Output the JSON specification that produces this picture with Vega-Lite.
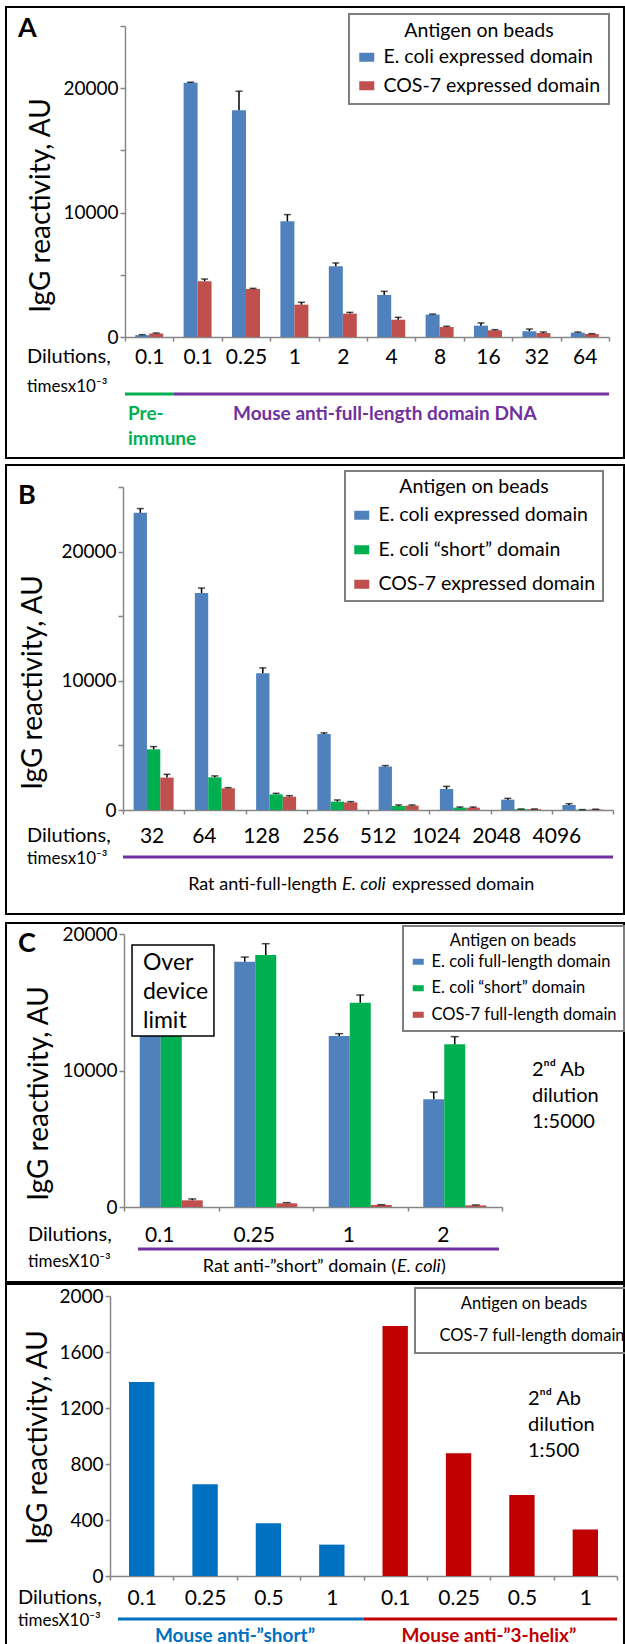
{
  "$schema": "https://vega.github.io/schema/vega-lite/v6.json",
  "padding": {"left": 5, "top": 6, "right": 0, "bottom": 0},
  "config": {
    "font": "Lato",
    "view": {"stroke": "black", "strokeWidth": 2},
    "axis": {"domainColor": "#868686", "tickColor": "#868686", "domainWidth": 1.5, "tickWidth": 1.5, "grid": false, "labelFont": "Lato", "titleFont": "Lato", "labelColor": "black", "titleColor": "black", "titleFontWeight": "normal", "labelOverlap": false},
    "legend": {"labelFont": "Lato", "titleFont": "Lato", "strokeWidth": 2, "strokeColor": "#7f7f7f", "titleFontWeight": "normal", "labelColor": "black", "titleColor": "black", "labelLimit": 400, "titleLimit": 400, "titleAnchor": "middle"},
    "text": {"font": "Lato", "color": "black"}
  },
  "resolve": {"scale": {"color": "independent", "x": "independent", "y": "independent", "xOffset": "independent", "shape": "independent"}, "axis": {"x": "independent", "y": "independent"}, "legend": {"color": "independent", "shape": "independent"}},
  "spacing": 7,
  "vconcat": [
    {
      "spacing": 5,
      "resolve": {"scale": {"color": "independent", "x": "independent", "y": "independent", "xOffset": "independent", "shape": "independent"}, "axis": {"x": "independent", "y": "independent"}, "legend": {"color": "independent", "shape": "independent"}},
      "vconcat": [
        {
          "width": 618, "height": 451,
          "resolve": {"scale": {"x": "independent"}, "axis": {"x": "independent"}},
          "layer": [
            {
              "data": {"values": [
                {"cat": "p0.1", "antigen": "E. coli expressed domain", "value": 150, "hi": 190},
                {"cat": "p0.1", "antigen": "COS-7 expressed domain", "value": 280, "hi": 320},
                {"cat": "0.1", "antigen": "E. coli expressed domain", "value": 20430, "hi": 20480},
                {"cat": "0.1", "antigen": "COS-7 expressed domain", "value": 4480, "hi": 4660},
                {"cat": "0.25", "antigen": "E. coli expressed domain", "value": 18230, "hi": 19760},
                {"cat": "0.25", "antigen": "COS-7 expressed domain", "value": 3860, "hi": 3910},
                {"cat": "1", "antigen": "E. coli expressed domain", "value": 9300, "hi": 9840},
                {"cat": "1", "antigen": "COS-7 expressed domain", "value": 2600, "hi": 2790},
                {"cat": "2", "antigen": "E. coli expressed domain", "value": 5680, "hi": 5950},
                {"cat": "2", "antigen": "COS-7 expressed domain", "value": 1880, "hi": 1980},
                {"cat": "4", "antigen": "E. coli expressed domain", "value": 3380, "hi": 3670},
                {"cat": "4", "antigen": "COS-7 expressed domain", "value": 1390, "hi": 1580},
                {"cat": "8", "antigen": "E. coli expressed domain", "value": 1800, "hi": 1840},
                {"cat": "8", "antigen": "COS-7 expressed domain", "value": 800, "hi": 860},
                {"cat": "16", "antigen": "E. coli expressed domain", "value": 910, "hi": 1130},
                {"cat": "16", "antigen": "COS-7 expressed domain", "value": 540, "hi": 590},
                {"cat": "32", "antigen": "E. coli expressed domain", "value": 460, "hi": 640},
                {"cat": "32", "antigen": "COS-7 expressed domain", "value": 320, "hi": 400},
                {"cat": "64", "antigen": "E. coli expressed domain", "value": 350, "hi": 400},
                {"cat": "64", "antigen": "COS-7 expressed domain", "value": 240, "hi": 270}
              ]},
              "encoding": {
                "x": {"field": "cat", "type": "nominal", "scale": {"domain": ["p0.1", "0.1", "0.25", "1", "2", "4", "8", "16", "32", "64"], "range": [119, 603], "paddingInner": 0, "paddingOuter": 0},
                  "axis": {"orient": "bottom", "offset": -121, "tickBand": "extent", "tickSize": 4, "labelPadding": 22, "labelBaseline": "alphabetic", "labelFontSize": 21, "labelAngle": 0, "labelExpr": "replace(datum.label, 'p', '')", "title": null}},
                "xOffset": {"field": "antigen", "type": "nominal", "scale": {"domain": ["E. coli expressed domain", "COS-7 expressed domain"], "paddingInner": 0, "paddingOuter": 0.73}}
              },
              "layer": [
                {"mark": {"type": "bar"},
                 "encoding": {
                   "y": {"field": "value", "type": "quantitative", "scale": {"domain": [0, 25000], "range": [330, 19], "nice": false},
                     "axis": {"orient": "left", "offset": -119, "values": [0, 5000, 10000, 15000, 20000, 25000], "format": "d", "labelExpr": "datum.value % 10000 === 0 ? datum.label : ''", "tickSize": 5, "labelPadding": 2, "labelFontSize": 19, "title": "IgG reactivity, AU", "titleFontSize": 28, "titleAngle": -90, "titleX": -84, "titleY": 198, "titleAlign": "center", "titleBaseline": "middle"}},
                   "color": {"field": "antigen", "type": "nominal", "scale": {"domain": ["E. coli expressed domain", "COS-7 expressed domain"], "range": ["#4F81BD", "#C0504D"]},
                     "legend": {"orient": "none", "legendX": 343, "legendY": 7, "title": "Antigen on beads", "titleFontSize": 19.5, "labelFontSize": 19.5, "padding": 8, "titlePadding": 6, "rowPadding": 7.5, "symbolType": "M-1,-0.6L1,-0.6L1,0.6L-1,0.6Z", "symbolSize": 225, "symbolStrokeWidth": 0, "labelOffset": 7}}
                 }},
                {"mark": {"type": "rule", "color": "black", "strokeWidth": 1.5},
                 "encoding": {"y": {"field": "value", "type": "quantitative"}, "y2": {"field": "hi"}}},
                {"mark": {"type": "tick", "color": "black", "thickness": 1.5, "size": 7},
                 "encoding": {"y": {"field": "hi", "type": "quantitative"}}}
              ]
            },
            {
              "data": {"values": [{}]},
              "layer": [
                {"mark": {"type": "text", "text": "A", "fontSize": 27, "fontWeight": "bold", "align": "left", "baseline": "alphabetic"},
                 "encoding": {"x": {"datum": -2.211, "type": "quantitative", "scale": {"domain": [0, 10], "range": [119, 603], "nice": false, "zero": false}, "axis": null}, "y": {"datum": 24140, "type": "quantitative", "scale": {"domain": [0, 25000], "range": [330, 19], "nice": false}}}},
                {"mark": {"type": "text", "text": "Dilutions,", "fontSize": 20, "align": "left", "baseline": "alphabetic"},
                 "encoding": {"x": {"datum": -2.025, "type": "quantitative"}, "y": {"datum": -2090, "type": "quantitative"}}},
                {"mark": {"type": "text", "text": "timesx10⁻³", "fontSize": 17, "align": "left", "baseline": "alphabetic"},
                 "encoding": {"x": {"datum": -2.025, "type": "quantitative"}, "y": {"datum": -4397, "type": "quantitative"}}},
                {"mark": {"type": "rule", "color": "#00B050", "strokeWidth": 3},
                 "encoding": {"x": {"datum": 0, "type": "quantitative"}, "x2": {"datum": 1}, "y": {"datum": -4582, "type": "quantitative"}}},
                {"mark": {"type": "rule", "color": "#7030A0", "strokeWidth": 3},
                 "encoding": {"x": {"datum": 1, "type": "quantitative"}, "x2": {"datum": 10}, "y": {"datum": -4582, "type": "quantitative"}}},
                {"mark": {"type": "text", "text": "Pre-", "fontSize": 19, "fontWeight": "bold", "color": "#00B050", "align": "left", "baseline": "alphabetic"},
                 "encoding": {"x": {"datum": 0.062, "type": "quantitative"}, "y": {"datum": -6672, "type": "quantitative"}}},
                {"mark": {"type": "text", "text": "immune", "fontSize": 19, "fontWeight": "bold", "color": "#00B050", "align": "left", "baseline": "alphabetic"},
                 "encoding": {"x": {"datum": 0.062, "type": "quantitative"}, "y": {"datum": -8682, "type": "quantitative"}}},
                {"mark": {"type": "text", "text": "Mouse anti-full-length domain DNA", "fontSize": 19, "fontWeight": "bold", "color": "#7030A0", "align": "left", "baseline": "alphabetic"},
                 "encoding": {"x": {"datum": 2.231, "type": "quantitative"}, "y": {"datum": -6672, "type": "quantitative"}}}
              ]
            }
          ]
        },
        {
          "width": 618, "height": 449,
          "resolve": {"scale": {"x": "independent"}, "axis": {"x": "independent"}},
          "layer": [
            {
              "data": {"values": [
                {"cat": "32", "antigen": "E. coli expressed domain", "value": 23000, "hi": 23330},
                {"cat": "32", "antigen": "E. coli “short” domain", "value": 4700, "hi": 4910},
                {"cat": "32", "antigen": "COS-7 expressed domain", "value": 2510, "hi": 2760},
                {"cat": "64", "antigen": "E. coli expressed domain", "value": 16800, "hi": 17180},
                {"cat": "64", "antigen": "E. coli “short” domain", "value": 2530, "hi": 2640},
                {"cat": "64", "antigen": "COS-7 expressed domain", "value": 1680, "hi": 1730},
                {"cat": "128", "antigen": "E. coli expressed domain", "value": 10590, "hi": 11000},
                {"cat": "128", "antigen": "E. coli “short” domain", "value": 1210, "hi": 1290},
                {"cat": "128", "antigen": "COS-7 expressed domain", "value": 1030, "hi": 1110},
                {"cat": "256", "antigen": "E. coli expressed domain", "value": 5890, "hi": 5970},
                {"cat": "256", "antigen": "E. coli “short” domain", "value": 650, "hi": 775},
                {"cat": "256", "antigen": "COS-7 expressed domain", "value": 590, "hi": 650},
                {"cat": "512", "antigen": "E. coli expressed domain", "value": 3360, "hi": 3440},
                {"cat": "512", "antigen": "E. coli “short” domain", "value": 310, "hi": 390},
                {"cat": "512", "antigen": "COS-7 expressed domain", "value": 340, "hi": 390},
                {"cat": "1024", "antigen": "E. coli expressed domain", "value": 1630, "hi": 1830},
                {"cat": "1024", "antigen": "E. coli “short” domain", "value": 180, "hi": 230},
                {"cat": "1024", "antigen": "COS-7 expressed domain", "value": 180, "hi": 230},
                {"cat": "2048", "antigen": "E. coli expressed domain", "value": 800, "hi": 900},
                {"cat": "2048", "antigen": "E. coli “short” domain", "value": 60, "hi": 80},
                {"cat": "2048", "antigen": "COS-7 expressed domain", "value": 60, "hi": 80},
                {"cat": "4096", "antigen": "E. coli expressed domain", "value": 390, "hi": 490},
                {"cat": "4096", "antigen": "E. coli “short” domain", "value": 20, "hi": 30},
                {"cat": "4096", "antigen": "COS-7 expressed domain", "value": 40, "hi": 60}
              ]},
              "encoding": {
                "x": {"field": "cat", "type": "nominal", "scale": {"domain": ["32", "64", "128", "256", "512", "1024", "2048", "4096"], "range": [117, 607], "paddingInner": 0, "paddingOuter": 0},
                  "axis": {"orient": "bottom", "offset": -104, "tickBand": "extent", "tickSize": 4, "labelPadding": 28, "labelBaseline": "alphabetic", "labelFontSize": 21, "labelAngle": 0, "title": null,
                    "labelOffset": {"condition": [{"test": "datum.value == '32'", "value": -2}, {"test": "datum.value == '64'", "value": -11}, {"test": "datum.value == '128'", "value": -15}, {"test": "datum.value == '256'", "value": -17}, {"test": "datum.value == '512'", "value": -21}, {"test": "datum.value == '1024'", "value": -24}, {"test": "datum.value == '2048'", "value": -25}], "value": -26}}},
                "xOffset": {"field": "antigen", "type": "nominal", "scale": {"domain": ["E. coli expressed domain", "E. coli “short” domain", "COS-7 expressed domain"], "paddingInner": 0, "paddingOuter": 0.797}}
              },
              "layer": [
                {"mark": {"type": "bar"},
                 "encoding": {
                   "y": {"field": "value", "type": "quantitative", "scale": {"domain": [0, 25000], "range": [345, 22], "nice": false},
                     "axis": {"orient": "left", "offset": -117, "values": [0, 5000, 10000, 15000, 20000, 25000], "format": "d", "labelExpr": "datum.value % 10000 === 0 ? datum.label : ''", "tickSize": 5, "labelPadding": 2, "labelFontSize": 19, "title": "IgG reactivity, AU", "titleFontSize": 28, "titleAngle": -90, "titleX": -90, "titleY": 217, "titleAlign": "center", "titleBaseline": "middle"}},
                   "color": {"field": "antigen", "type": "nominal", "scale": {"domain": ["E. coli expressed domain", "E. coli “short” domain", "COS-7 expressed domain"], "range": ["#4F81BD", "#00B050", "#C0504D"]},
                     "legend": {"orient": "none", "legendX": 339, "legendY": 6, "title": "Antigen on beads", "titleFontSize": 19.5, "labelFontSize": 19.5, "padding": 7, "titlePadding": 8, "rowPadding": 13.5, "symbolType": "M-1,-0.6L1,-0.6L1,0.6L-1,0.6Z", "symbolSize": 225, "symbolStrokeWidth": 0, "labelOffset": 7}}
                 }},
                {"mark": {"type": "rule", "color": "black", "strokeWidth": 1.5},
                 "encoding": {"y": {"field": "value", "type": "quantitative"}, "y2": {"field": "hi"}}},
                {"mark": {"type": "tick", "color": "black", "thickness": 1.5, "size": 7},
                 "encoding": {"y": {"field": "hi", "type": "quantitative"}}}
              ]
            },
            {
              "data": {"values": [{}]},
              "layer": [
                {"mark": {"type": "text", "text": "B", "fontSize": 27, "fontWeight": "bold", "align": "left", "baseline": "alphabetic"},
                 "encoding": {"x": {"datum": -1.714, "type": "quantitative", "scale": {"domain": [0, 8], "range": [117, 607], "nice": false, "zero": false}, "axis": null}, "y": {"datum": 23707, "type": "quantitative", "scale": {"domain": [0, 25000], "range": [345, 22], "nice": false}}}},
                {"mark": {"type": "text", "text": "Dilutions,", "fontSize": 20, "align": "left", "baseline": "alphabetic"},
                 "encoding": {"x": {"datum": -1.567, "type": "quantitative"}, "y": {"datum": -2477, "type": "quantitative"}}},
                {"mark": {"type": "text", "text": "timesx10⁻³", "fontSize": 17, "align": "left", "baseline": "alphabetic"},
                 "encoding": {"x": {"datum": -1.567, "type": "quantitative"}, "y": {"datum": -4156, "type": "quantitative"}}},
                {"mark": {"type": "rule", "color": "#7030A0", "strokeWidth": 3},
                 "encoding": {"x": {"datum": 0, "type": "quantitative"}, "x2": {"datum": 8}, "y": {"datum": -3638, "type": "quantitative"}}},
                {"mark": {"type": "text", "text": "Rat anti-full-length", "fontSize": 18, "align": "right", "baseline": "alphabetic"},
                 "encoding": {"x": {"datum": 3.494, "type": "quantitative"}, "y": {"datum": -6192, "type": "quantitative"}}},
                {"mark": {"type": "text", "text": "E. coli", "fontSize": 18, "fontStyle": "italic", "align": "left", "baseline": "alphabetic"},
                 "encoding": {"x": {"datum": 3.576, "type": "quantitative"}, "y": {"datum": -6192, "type": "quantitative"}}},
                {"mark": {"type": "text", "text": "expressed domain", "fontSize": 18, "align": "left", "baseline": "alphabetic"},
                 "encoding": {"x": {"datum": 4.392, "type": "quantitative"}, "y": {"datum": -6192, "type": "quantitative"}}}
              ]
            }
          ]
        }
      ]
    },
    {
      "spacing": 0,
      "resolve": {"scale": {"color": "independent", "x": "independent", "y": "independent", "xOffset": "independent", "shape": "independent"}, "axis": {"x": "independent", "y": "independent"}, "legend": {"color": "independent", "shape": "independent"}},
      "vconcat": [
        {
          "width": 618, "height": 359,
          "resolve": {"scale": {"x": "independent"}, "axis": {"x": "independent"}},
          "layer": [
            {
              "data": {"values": [
                {"cat": "0.1", "antigen": "E. coli full-length domain", "value": 15000, "hi": 15000},
                {"cat": "0.1", "antigen": "E. coli “short” domain", "value": 15000, "hi": 15000},
                {"cat": "0.1", "antigen": "COS-7 full-length domain", "value": 490, "hi": 590},
                {"cat": "0.25", "antigen": "E. coli full-length domain", "value": 17970, "hi": 18310},
                {"cat": "0.25", "antigen": "E. coli “short” domain", "value": 18460, "hi": 19290},
                {"cat": "0.25", "antigen": "COS-7 full-length domain", "value": 270, "hi": 320},
                {"cat": "1", "antigen": "E. coli full-length domain", "value": 12530, "hi": 12700},
                {"cat": "1", "antigen": "E. coli “short” domain", "value": 14970, "hi": 15530},
                {"cat": "1", "antigen": "COS-7 full-length domain", "value": 150, "hi": 170},
                {"cat": "2", "antigen": "E. coli full-length domain", "value": 7890, "hi": 8420},
                {"cat": "2", "antigen": "E. coli “short” domain", "value": 11920, "hi": 12480},
                {"cat": "2", "antigen": "COS-7 full-length domain", "value": 120, "hi": 150}
              ]},
              "encoding": {
                "x": {"field": "cat", "type": "nominal", "scale": {"domain": ["0.1", "0.25", "1", "2"], "range": [118, 496], "paddingInner": 0, "paddingOuter": 0},
                  "axis": {"orient": "bottom", "offset": -75, "tickBand": "extent", "tickSize": 4, "labelPadding": 30, "labelBaseline": "alphabetic", "labelFontSize": 21, "labelAngle": 0, "labelOffset": -12, "title": null}},
                "xOffset": {"field": "antigen", "type": "nominal", "scale": {"domain": ["E. coli full-length domain", "E. coli “short” domain", "COS-7 full-length domain"], "paddingInner": 0, "paddingOuter": 0.75}}
              },
              "layer": [
                {"mark": {"type": "bar"},
                 "encoding": {
                   "y": {"field": "value", "type": "quantitative", "scale": {"domain": [0, 20000], "range": [284, 11], "nice": false},
                     "axis": {"orient": "left", "offset": -118, "values": [0, 10000, 20000], "format": "d", "tickSize": 5, "labelPadding": 2, "labelFontSize": 19, "title": "IgG reactivity, AU", "titleFontSize": 28, "titleAngle": -90, "titleX": -85, "titleY": 170, "titleAlign": "center", "titleBaseline": "middle"}},
                   "color": {"field": "antigen", "type": "nominal", "scale": {"domain": ["E. coli full-length domain", "E. coli “short” domain", "COS-7 full-length domain"], "range": ["#4F81BD", "#00B050", "#C0504D"]},
                     "legend": {"orient": "none", "legendX": 397, "legendY": 3, "title": "Antigen on beads", "titleFontSize": 16.5, "labelFontSize": 16.5, "padding": 7, "titlePadding": 4, "rowPadding": 9.5, "symbolType": "M-1,-0.55L1,-0.55L1,0.55L-1,0.55Z", "symbolSize": 121, "symbolStrokeWidth": 0, "labelOffset": 5}}
                 }},
                {"mark": {"type": "rule", "color": "black", "strokeWidth": 1.5},
                 "encoding": {"y": {"field": "value", "type": "quantitative"}, "y2": {"field": "hi"}}},
                {"mark": {"type": "tick", "color": "black", "thickness": 1.5, "size": 8},
                 "encoding": {"y": {"field": "hi", "type": "quantitative"}}}
              ]
            },
            {
              "data": {"values": [{}]},
              "layer": [
                {"mark": {"type": "text", "text": "C", "fontSize": 27, "fontWeight": "bold", "align": "left", "baseline": "alphabetic"},
                 "encoding": {"x": {"datum": -1.122, "type": "quantitative", "scale": {"domain": [0, 4], "range": [118, 496], "nice": false, "zero": false}, "axis": null}, "y": {"datum": 18681, "type": "quantitative", "scale": {"domain": [0, 20000], "range": [284, 11], "nice": false}}}},
                {"mark": {"type": "rect", "fill": "white", "stroke": "black", "strokeWidth": 1.5},
                 "encoding": {"x": {"datum": 0.085, "type": "quantitative"}, "x2": {"datum": 0.952}, "y": {"datum": 19194, "type": "quantitative"}, "y2": {"datum": 12527}}},
                {"mark": {"type": "text", "text": ["Over", "device", "limit"], "fontSize": 23, "lineHeight": 29, "align": "left", "baseline": "alphabetic"},
                 "encoding": {"x": {"datum": 0.201, "type": "quantitative"}, "y": {"datum": 17363, "type": "quantitative"}}},
                {"mark": {"type": "text", "text": ["2ⁿᵈ Ab", "dilution", "1:5000"], "fontSize": 20, "lineHeight": 26.3, "align": "left", "baseline": "alphabetic"},
                 "encoding": {"x": {"datum": 4.317, "type": "quantitative"}, "y": {"datum": 9619, "type": "quantitative"}}},
                {"mark": {"type": "text", "text": "Dilutions,", "fontSize": 20, "align": "left", "baseline": "alphabetic"},
                 "encoding": {"x": {"datum": -1.016, "type": "quantitative"}, "y": {"datum": -2469, "type": "quantitative"}}},
                {"mark": {"type": "text", "text": "timesX10⁻³", "fontSize": 17, "align": "left", "baseline": "alphabetic"},
                 "encoding": {"x": {"datum": -1.016, "type": "quantitative"}, "y": {"datum": -4396, "type": "quantitative"}}},
                {"mark": {"type": "rule", "color": "#7030A0", "strokeWidth": 3},
                 "encoding": {"x": {"datum": 0.148, "type": "quantitative"}, "x2": {"datum": 3.968}, "y": {"datum": -3077, "type": "quantitative"}}},
                {"mark": {"type": "text", "text": "Rat anti-”short” domain (", "fontSize": 18, "align": "right", "baseline": "alphabetic"},
                 "encoding": {"x": {"datum": 2.878, "type": "quantitative"}, "y": {"datum": -4762, "type": "quantitative"}}},
                {"mark": {"type": "text", "text": "E. coli", "fontSize": 18, "fontStyle": "italic", "align": "left", "baseline": "alphabetic"},
                 "encoding": {"x": {"datum": 2.889, "type": "quantitative"}, "y": {"datum": -4762, "type": "quantitative"}}},
                {"mark": {"type": "text", "text": ")", "fontSize": 18, "align": "left", "baseline": "alphabetic"},
                 "encoding": {"x": {"datum": 3.354, "type": "quantitative"}, "y": {"datum": -4762, "type": "quantitative"}}}
              ]
            }
          ]
        },
        {
          "width": 618, "height": 368,
          "resolve": {"scale": {"x": "independent"}, "axis": {"x": "independent"}},
          "layer": [
            {
              "data": {"values": [
                {"cat": "s0.1", "grp": "Mouse anti-”short”", "antigen": "COS-7 full-length domain", "value": 1386},
                {"cat": "s0.25", "grp": "Mouse anti-”short”", "antigen": "COS-7 full-length domain", "value": 655},
                {"cat": "s0.5", "grp": "Mouse anti-”short”", "antigen": "COS-7 full-length domain", "value": 376},
                {"cat": "s1", "grp": "Mouse anti-”short”", "antigen": "COS-7 full-length domain", "value": 224},
                {"cat": "h0.1", "grp": "Mouse anti-”3-helix”", "antigen": "COS-7 full-length domain", "value": 1786},
                {"cat": "h0.25", "grp": "Mouse anti-”3-helix”", "antigen": "COS-7 full-length domain", "value": 876},
                {"cat": "h0.5", "grp": "Mouse anti-”3-helix”", "antigen": "COS-7 full-length domain", "value": 579},
                {"cat": "h1", "grp": "Mouse anti-”3-helix”", "antigen": "COS-7 full-length domain", "value": 333}
              ]},
              "encoding": {
                "x": {"field": "cat", "type": "nominal", "scale": {"domain": ["s0.1", "s0.25", "s0.5", "s1", "h0.1", "h0.25", "h0.5", "h1"], "range": [104, 611], "paddingInner": 0, "paddingOuter": 0},
                  "axis": {"orient": "bottom", "offset": -76, "tickBand": "extent", "tickSize": 4, "labelPadding": 24, "labelBaseline": "alphabetic", "labelFontSize": 21, "labelAngle": 0, "labelExpr": "slice(datum.label, 1)", "title": null}},
                "y": {"field": "value", "type": "quantitative", "scale": {"domain": [0, 2000], "range": [292, 12], "nice": false},
                  "axis": {"orient": "left", "offset": -104, "values": [0, 200, 400, 600, 800, 1000, 1200, 1400, 1600, 1800, 2000], "format": "d", "labelExpr": "datum.value % 400 === 0 ? datum.label : ''", "tickSize": 5, "labelPadding": 2, "labelFontSize": 19, "title": "IgG reactivity, AU", "titleFontSize": 28, "titleAngle": -90, "titleX": -72, "titleY": 153, "titleAlign": "center", "titleBaseline": "middle"}}
              },
              "layer": [
                {"mark": {"type": "bar", "width": {"band": 0.4}},
                 "encoding": {"color": {"field": "grp", "type": "nominal", "scale": {"domain": ["Mouse anti-”short”", "Mouse anti-”3-helix”"], "range": ["#0070C0", "#C00000"]}, "legend": null}}},
                {"mark": {"type": "point", "opacity": 0},
                 "encoding": {"shape": {"field": "antigen", "type": "nominal",
                   "legend": {"orient": "none", "legendX": 409, "legendY": 4, "title": "Antigen on beads", "titleFontSize": 16.5, "labelFontSize": 16.5, "padding": 8, "titlePadding": 15, "symbolSize": 1, "symbolOpacity": 0, "symbolStrokeWidth": 0, "labelOffset": 0}}}}
              ]
            },
            {
              "data": {"values": [{}]},
              "layer": [
                {"mark": {"type": "text", "text": "Dilutions,", "fontSize": 20, "align": "left", "baseline": "alphabetic"},
                 "encoding": {"x": {"datum": -1.452, "type": "quantitative", "scale": {"domain": [0, 8], "range": [104, 611], "nice": false, "zero": false}, "axis": null}, "y": {"datum": -200, "type": "quantitative", "scale": {"domain": [0, 2000], "range": [292, 12], "nice": false}}}},
                {"mark": {"type": "text", "text": "timesX10⁻³", "fontSize": 17, "align": "left", "baseline": "alphabetic"},
                 "encoding": {"x": {"datum": -1.452, "type": "quantitative"}, "y": {"datum": -357, "type": "quantitative"}}},
                {"mark": {"type": "rule", "color": "#0070C0", "strokeWidth": 3},
                 "encoding": {"x": {"datum": 0.126, "type": "quantitative"}, "x2": {"datum": 4}, "y": {"datum": -307, "type": "quantitative"}}},
                {"mark": {"type": "rule", "color": "#C00000", "strokeWidth": 3},
                 "encoding": {"x": {"datum": 4, "type": "quantitative"}, "x2": {"datum": 8}, "y": {"datum": -307, "type": "quantitative"}}},
                {"mark": {"type": "text", "text": "Mouse anti-”short”", "fontSize": 19, "fontWeight": "bold", "color": "#0070C0", "align": "center", "baseline": "alphabetic"},
                 "encoding": {"x": {"datum": 1.972, "type": "quantitative"}, "y": {"datum": -468, "type": "quantitative"}}},
                {"mark": {"type": "text", "text": "Mouse anti-”3-helix”", "fontSize": 19, "fontWeight": "bold", "color": "#C00000", "align": "center", "baseline": "alphabetic"},
                 "encoding": {"x": {"datum": 5.98, "type": "quantitative"}, "y": {"datum": -468, "type": "quantitative"}}},
                {"mark": {"type": "text", "text": ["2ⁿᵈ Ab", "dilution", "1:500"], "fontSize": 20, "lineHeight": 26, "align": "left", "baseline": "alphabetic"},
                 "encoding": {"x": {"datum": 6.596, "type": "quantitative"}, "y": {"datum": 1221, "type": "quantitative"}}}
              ]
            }
          ]
        }
      ]
    }
  ]
}
